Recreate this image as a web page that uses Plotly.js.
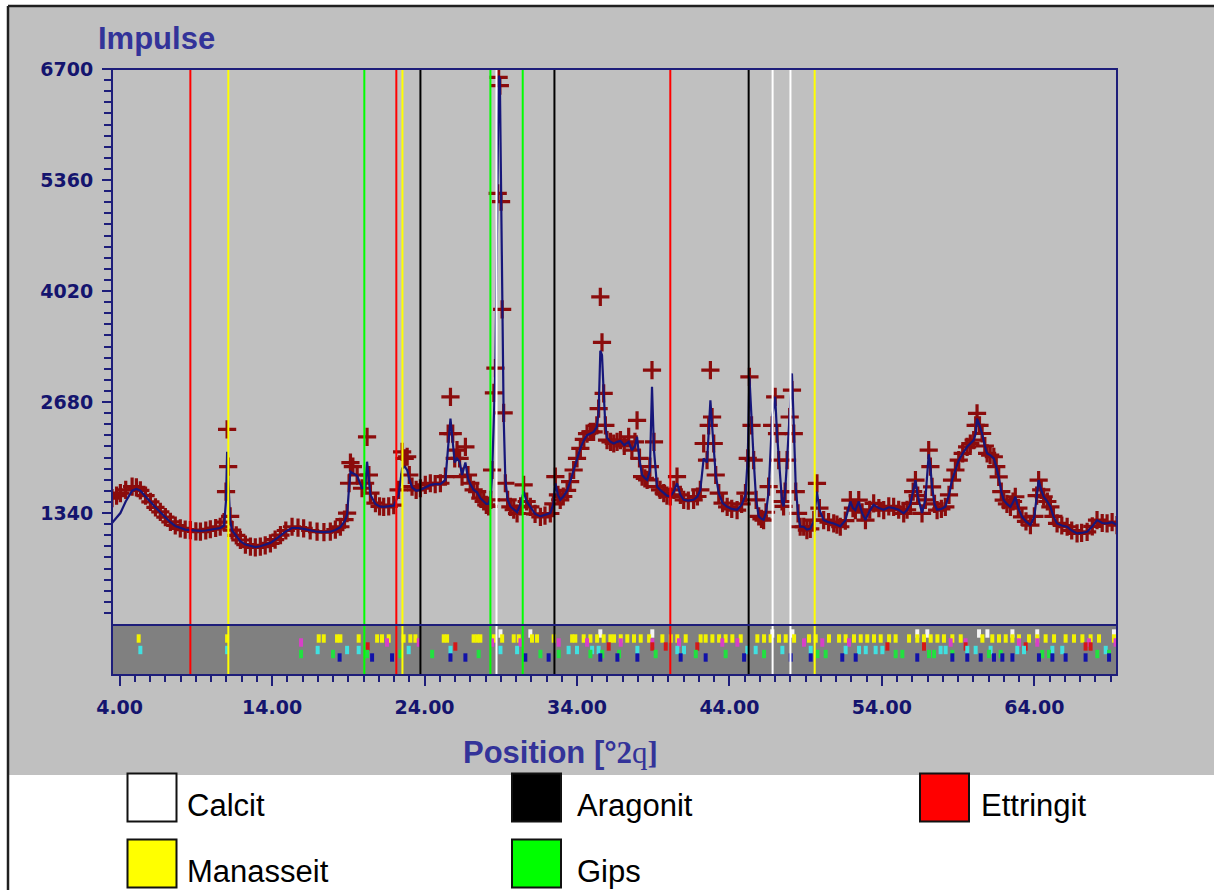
<!DOCTYPE html>
<html><head><meta charset="utf-8">
<script src="https://cdn.plot.ly/plotly-3.0.1.min.js"></script>
<style>html,body{margin:0;padding:0;background:#fff}#chart{width:1214px;height:890px}</style>
</head><body><div id="chart"></div><script>
// ---------- data ----------
const twoTheta = [3.5,3.8,4.05,4.4,4.82,5.1,5.36,5.7,6.02,6.35,6.67,7.0,7.33,7.65,7.98,8.3,8.64,9.0,9.3,9.65,9.95,10.3,10.6,10.85,10.98,11.05,11.12,11.25,11.38,11.65,11.92,12.25,12.58,12.9,13.23,13.55,13.89,14.2,14.55,14.9,15.31,15.7,16.07,16.5,16.95,17.4,17.82,18.15,18.48,18.75,18.92,19.05,19.14,19.3,19.58,19.9,20.1,20.23,20.35,20.45,20.78,21.05,21.32,21.65,21.98,22.3,22.53,22.7,22.86,23.0,23.18,23.45,23.73,24.05,24.38,24.7,25.04,25.37,25.55,25.7,25.85,25.98,26.13,26.3,26.46,26.68,26.85,27.0,27.22,27.45,27.66,27.88,28.05,28.2,28.35,28.43,28.55,28.65,28.8,28.86,28.94,29.02,29.09,29.19,29.3,29.45,29.63,29.85,30.07,30.3,30.5,30.7,30.94,31.25,31.6,31.9,32.25,32.45,32.58,32.75,32.9,33.1,33.35,33.55,33.78,34.0,34.22,34.45,34.66,34.88,35.09,35.3,35.42,35.53,35.64,35.75,35.86,35.97,36.2,36.41,36.63,36.85,37.1,37.39,37.6,37.8,37.94,38.1,38.27,38.45,38.6,38.78,38.92,39.05,39.25,39.45,39.69,39.9,40.12,40.35,40.56,40.78,41.0,41.3,41.65,41.9,42.09,42.31,42.53,42.64,42.75,42.86,42.97,43.1,43.3,43.55,43.85,44.15,44.5,44.8,45.05,45.2,45.31,45.45,45.59,45.75,45.92,46.1,46.24,46.4,46.57,46.8,47.0,47.12,47.23,47.45,47.55,47.65,47.78,47.95,48.1,48.22,48.35,48.5,48.64,48.87,49.08,49.3,49.53,49.74,49.9,50.18,50.5,50.84,51.05,51.27,51.6,51.93,52.1,52.26,52.48,52.7,52.92,53.2,53.46,53.8,54.12,54.45,54.77,55.1,55.43,55.65,55.87,56.05,56.2,56.35,56.63,56.85,57.07,57.18,57.29,57.45,57.62,57.9,58.16,58.4,58.6,58.82,59.04,59.3,59.59,59.8,60.02,60.15,60.24,60.4,60.57,60.75,60.9,61.1,61.34,61.5,61.66,61.83,61.99,62.2,62.43,62.6,62.75,62.95,63.19,63.45,63.74,64.0,64.15,64.28,64.45,64.61,64.85,65.05,65.25,65.49,65.8,66.15,66.45,66.8,67.1,67.46,67.8,68.11,68.45,68.77,69.1,69.42];
const observed = [1520,1550,1580,1620,1660,1650,1615,1550,1475,1410,1355,1290,1235,1190,1155,1140,1135,1120,1115,1130,1145,1160,1175,1230,1600,2350,1900,1300,1135,1070,1015,960,935,925,935,950,975,1020,1075,1130,1175,1165,1155,1130,1115,1110,1115,1140,1175,1260,1340,1700,1950,1900,1800,1640,1700,2260,1800,1580,1460,1420,1415,1420,1435,1620,2080,2000,2020,1800,1660,1620,1640,1680,1700,1690,1700,1780,2300,2744,2300,2000,2100,2000,1780,2140,1800,1700,1620,1600,1520,1480,1440,1420,1500,1860,2790,3090,5200,6600,6500,5100,3800,2550,1700,1500,1415,1380,1335,1420,1680,1480,1415,1330,1295,1310,1335,1450,1780,1560,1500,1540,1615,1720,1860,2000,2120,2230,2300,2320,2320,2400,2600,3950,3400,2785,2400,2220,2200,2180,2200,2220,2150,2260,2100,2200,2460,2000,1780,1760,1740,1900,3066,2200,1660,1620,1580,1550,1540,1620,1780,1560,1500,1490,1500,1540,1620,2180,1980,2400,3066,2500,2180,1800,1580,1460,1415,1390,1375,1450,1580,2000,2985,2400,1980,1500,1300,1270,1255,1350,1660,2400,2744,2300,1980,1480,1420,1600,1980,2500,2824,2300,1600,1336,1175,1175,1135,1150,1255,1698,1400,1255,1230,1215,1200,1175,1250,1497,1400,1376,1497,1350,1255,1380,1456,1400,1376,1420,1416,1380,1336,1380,1456,1600,1738,1550,1336,1500,2100,1900,1657,1450,1376,1390,1416,1560,1738,1860,1979,2060,2140,2180,2221,2400,2543,2400,2301,2150,2060,2040,2020,1900,1778,1600,1497,1450,1416,1480,1537,1400,1295,1240,1195,1300,1550,1738,1620,1537,1480,1416,1300,1215,1190,1175,1130,1094,1100,1114,1180,1255,1220,1215,1230,1195];
const calculated = [1220,1280,1340,1480,1610,1630,1610,1540,1470,1410,1350,1290,1230,1185,1160,1140,1135,1125,1125,1130,1140,1150,1160,1190,1500,2080,1700,1250,1130,1060,1000,960,940,930,940,955,980,1020,1070,1120,1160,1160,1150,1130,1115,1110,1115,1135,1170,1240,1320,1650,1840,1820,1790,1640,1650,1960,1700,1560,1450,1420,1415,1420,1430,1560,1880,1900,1860,1750,1650,1610,1620,1650,1680,1690,1690,1740,2100,2480,2200,1950,2000,1960,1800,1950,1760,1690,1620,1590,1520,1480,1450,1450,1550,1800,2700,3100,5600,6620,6580,5120,4000,2500,1750,1500,1420,1380,1350,1450,1600,1480,1410,1330,1300,1320,1340,1450,1700,1560,1500,1540,1610,1720,1860,2000,2120,2220,2280,2300,2320,2380,2560,3300,3250,2800,2400,2250,2200,2180,2200,2210,2160,2200,2100,2150,2260,1980,1800,1760,1740,1850,2865,2100,1660,1620,1580,1550,1540,1600,1700,1560,1500,1490,1500,1540,1620,2000,1950,2300,2700,2400,2100,1800,1580,1460,1415,1390,1380,1440,1560,2000,2985,2450,1980,1500,1300,1270,1260,1350,1600,2500,2744,2300,1980,1480,1420,1600,1980,2600,3026,2400,1650,1336,1175,1175,1140,1150,1240,1600,1380,1255,1230,1215,1200,1180,1250,1480,1400,1376,1480,1340,1255,1370,1440,1400,1380,1410,1400,1380,1336,1380,1450,1600,1738,1550,1340,1500,2050,1900,1657,1450,1380,1390,1416,1560,1738,1860,1979,2060,2140,2180,2221,2300,2480,2400,2301,2150,2060,2040,2000,1900,1778,1600,1497,1450,1416,1470,1537,1400,1295,1240,1195,1300,1550,1738,1620,1537,1480,1416,1300,1215,1190,1175,1130,1094,1100,1114,1180,1255,1220,1215,1230,1195];

// phase reference lines (°2θ)
const calcit    = [28.72, 46.83, 48.0];
const aragonit  = [23.73, 32.52, 45.26];
const ettringit = [8.64, 22.15, 40.12];
const manasseit = [11.13, 22.55, 49.59];
const gips      = [20.05, 28.32, 30.44];
const phaseNames = ['Calcit', 'Aragonit', 'Ettringit', 'Manasseit', 'Gips'];

// reference pattern sticks in the lower strip (°2θ)
const refYellow = [5.25,11.05,17.06,17.39,18.26,18.48,19.68,20.89,21.21,21.65,22.63,23.07,23.4,25.26,25.48,27.22,27.45,27.66,28.54,29.09,29.85,30.18,31.05,31.38,32.47,33.68,33.89,34.44,34.88,35.32,35.75,36.19,36.43,36.87,37.3,37.74,38.18,38.73,39.6,40.15,40.58,41.13,42.11,42.44,42.88,43.32,43.75,44.19,44.74,45.83,46.27,46.7,47.25,47.69,48.24,49.22,49.66,50.53,51.19,51.62,52.17,52.61,53.04,53.48,53.92,54.47,54.9,55.78,56.32,56.76,57.2,57.64,58.07,58.62,59.17,60.59,61.24,61.68,62.12,62.56,62.99,63.65,64.19,64.74,65.29,66.05,66.6,67.15,67.69,68.24,69.22];
const refWhite   = [28.98,30.94,35.53,38.94,46.81,48.13,56.32,56.98,60.37,60.92,62.56,64.19,69.22];
const refMagenta = [15.9,21.54,23.62,28.43,30.29,32.8,34.66,36.87,38.94,40.69,43.53,44.52,48.89,50.09,51.84,58.51,59.49,62.99,64.19,67.58,69.33];
const refRed     = [20.27,26.02,36.08,38.94,39.82,41.89,54.36,56.76,59.49,63.43,67.36,67.69];
const refCyan    = [5.36,11.05,16.99,18.92,19.68,22.96,25.7,28.98,30.07,33.45,34.0,34.99,35.42,37.96,40.58,41.02,45.17,45.72,47.47,49.33,51.62,52.5,52.94,53.59,54.03,57.85,58.18,59.6,60.15,61.13,62.88,63.32,65.18,65.83,68.68];
const refGreen   = [15.9,18.0,20.23,22.42,24.5,27.55,31.6,32.8,34.88,35.66,36.76,39.16,41.79,43.75,46.27,49.77,50.31,54.9,55.34,57.09,57.42,58.62,61.02,61.79,64.52,64.96,68.13,68.9];
const refBlue    = [18.43,20.56,21.87,25.7,26.68,30.61,32.14,35.53,36.65,37.96,40.8,42.44,44.96,48.02,49.33,51.4,52.28,56.32,58.62,59.6,60.48,61.35,61.9,62.56,64.3,65.18,66.05,67.36,68.9];

// axes
const xRange = [3.5, 69.42];
const yRange = [1, 6701];
const xMajor = 10, xTick0 = 4, xMinor = 1;
const yMajor = 1340, yMinor = 134;

// ---------- geometry helpers (page pixels -> paper) ----------
const W = 1214, H = 890, ML = 112, MR = 97, MT = 69, MB = 215;
const PW = W - ML - MR, PH = H - MT - MB;
const px = p => (p - ML) / PW;
const py = p => (H - MB - p) / PH;

const navy = '#1e1e7a';
const titleBlue = '#333399';
const tickFont = {family: 'DejaVu Sans', size: 19, color: '#14146e', weight: 'bold'};

const phaseColors = {Calcit: '#ffffff', Aragonit: '#000000', Ettringit: '#ff0000', Manasseit: '#ffff00', Gips: '#00ff00'};
const phasePos = {Calcit: calcit, Aragonit: aragonit, Ettringit: ettringit, Manasseit: manasseit, Gips: gips};

// ---------- traces ----------
const traces = [
  {x: twoTheta, y: observed, xaxis: 'x', yaxis: 'y', mode: 'markers', type: 'scatter', cliponaxis: true,
   marker: {symbol: 'cross-thin', size: 13, line: {width: 3.2, color: '#8b0c0c'}}},
  {x: twoTheta, y: calculated, xaxis: 'x', yaxis: 'y', mode: 'lines', type: 'scatter',
   line: {color: '#16167a', width: 2.2}}
];
const rows = [
  [refWhite, 0.83, '#f4f4f4'],
  [refYellow, 0.73, '#f2f200'],
  [refMagenta, 0.65, '#d840c8'],
  [refRed, 0.57, '#d41818'],
  [refCyan, 0.50, '#40e0e0'],
  [refGreen, 0.42, '#22e040'],
  [refBlue, 0.35, '#1212a8']
];
rows.forEach(([xs, lvl, col]) => {
  traces.push({x: xs, y: xs.map(() => lvl), xaxis: 'x', yaxis: 'y2', mode: 'markers', type: 'scatter',
    marker: {symbol: 'line-ns', size: 6, line: {width: 4, color: col}}});
});

// ---------- shapes ----------
const shapes = [
  {type: 'rect', xref: 'paper', yref: 'paper', x0: px(8), x1: px(1214), y0: py(775), y1: py(6),
   fillcolor: '#c0c0c0', line: {width: 0}, layer: 'below'},
  {type: 'rect', xref: 'paper', yref: 'paper', x0: 0, x1: 1, y0: 0, y1: py(625),
   fillcolor: '#808080', line: {width: 0}, layer: 'below'}
];
phaseNames.forEach(n => {
  phasePos[n].forEach(v => shapes.push({type: 'line', xref: 'x', yref: 'paper', x0: v, x1: v, y0: 0, y1: 1,
    line: {color: phaseColors[n], width: 2}, layer: 'above'}));
});
shapes.push(
  {type: 'rect', xref: 'paper', yref: 'paper', x0: 0, x1: 1, y0: py(625), y1: 1, line: {color: navy, width: 2}, layer: 'above'},
  {type: 'rect', xref: 'paper', yref: 'paper', x0: 0, x1: 1, y0: 0, y1: py(625), line: {color: navy, width: 2}, layer: 'above'},
  {type: 'line', xref: 'paper', yref: 'paper', x0: px(8), x1: px(1214), y0: py(6), y1: py(6), line: {color: '#202020', width: 2.5}, layer: 'above'},
  {type: 'line', xref: 'paper', yref: 'paper', x0: px(8), x1: px(8), y0: py(6), y1: py(890), line: {color: '#202020', width: 2.5}, layer: 'above'}
);

// legend boxes below the chart: [name, box left, box top, text left] in page pixels
const legendCells = [
  ['Calcit', 127.5, 773.5, 187], ['Aragonit', 512, 773.5, 577], ['Ettringit', 920, 773.5, 981],
  ['Manasseit', 127.5, 839.5, 187], ['Gips', 512, 839.5, 577]
];
const annotations = [
  {xref: 'paper', yref: 'paper', x: px(96), y: py(38), xanchor: 'left', yanchor: 'middle', showarrow: false,
   text: 'Impulse', font: {family: 'Liberation Sans', size: 31, color: titleBlue, weight: 'bold'}},
  {xref: 'paper', yref: 'paper', x: px(560), y: py(752), xanchor: 'center', yanchor: 'middle', showarrow: false,
   text: 'Position [°<span style="font-family:\'Liberation Serif\'">2</span><span style="font-family:\'Liberation Serif\';font-weight:normal">q</span><span style="font-family:\'Liberation Serif\'">]</span>',
   font: {family: 'Liberation Sans', size: 31, color: titleBlue, weight: 'bold'}}
];
legendCells.forEach(([name, x0, y0, tx]) => {
  shapes.push({type: 'rect', xref: 'paper', yref: 'paper', x0: px(x0), x1: px(x0 + 49), y0: py(y0 + 48), y1: py(y0),
    fillcolor: phaseColors[name], line: {color: '#111111', width: 2}, layer: 'above'});
  annotations.push({xref: 'paper', yref: 'paper', x: px(tx - 2), y: py(y0 + 32), xanchor: 'left', yanchor: 'middle',
    showarrow: false, text: name, font: {family: 'Liberation Sans', size: 31, color: '#000000'}});
});

// ---------- layout ----------
const layout = {
  width: W, height: H,
  margin: {l: ML, r: MR, t: MT, b: MB, pad: 0},
  paper_bgcolor: '#ffffff', plot_bgcolor: 'rgba(0,0,0,0)',
  showlegend: false, hovermode: false,
  xaxis: {range: xRange, anchor: 'y2', showgrid: false, zeroline: false, showline: false,
    tick0: xTick0, dtick: xMajor, tickformat: '.2f', ticks: 'outside', ticklen: 10, tickwidth: 2, tickcolor: navy,
    minor: {dtick: xMinor, tick0: xTick0, ticks: 'outside', ticklen: 6, tickwidth: 2, tickcolor: navy},
    tickfont: tickFont, ticklabelstandoff: 5},
  yaxis: {domain: [py(624), 1], range: yRange, anchor: 'x', showgrid: false, zeroline: false, showline: false,
    tick0: 0, dtick: yMajor, ticks: 'outside', ticklen: 9, tickwidth: 2, tickcolor: navy,
    minor: {dtick: yMinor, tick0: 0, ticks: 'outside', ticklen: 7, tickwidth: 2, tickcolor: navy},
    tickfont: tickFont, ticklabelstandoff: 5},
  yaxis2: {domain: [0, py(625)], range: [0, 1], anchor: 'x', showgrid: false, zeroline: false, showline: false,
    showticklabels: false, ticks: ''},
  shapes: shapes,
  annotations: annotations
};

Plotly.newPlot('chart', traces, layout, {staticPlot: true, displayModeBar: false});
</script></body></html>
